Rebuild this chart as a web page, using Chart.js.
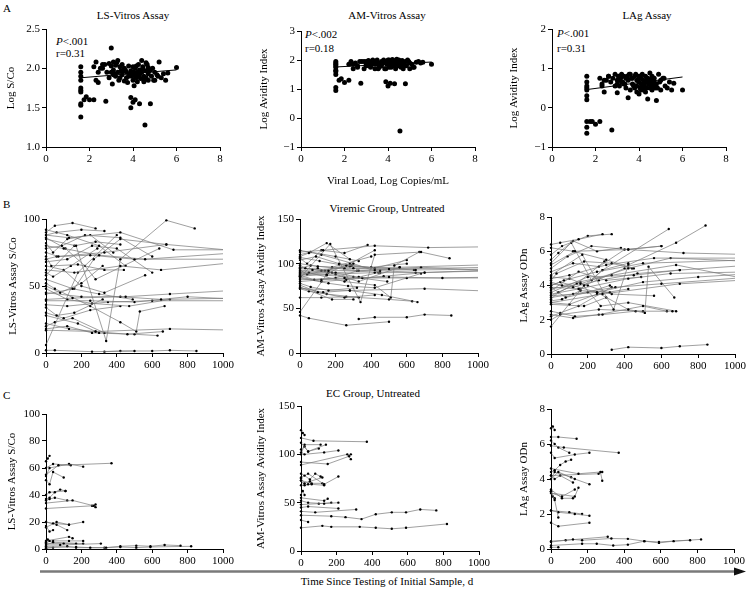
<!DOCTYPE html>
<html>
<head>
<meta charset="utf-8">
<script src="https://cdn.jsdelivr.net/npm/chart.js@4.4.1/dist/chart.umd.min.js"></script>
<style>
body { margin: 0; background: #fff; width: 746px; height: 591px; position: relative; overflow: hidden; font-family: "Liberation Serif", serif; color: #000; }
canvas { position: absolute; }
.txt { position: absolute; font-size: 11px; line-height: 1; white-space: nowrap; }
.c { transform: translate(-50%, -50%); }
.l { transform: translate(0, -50%); }
</style>
</head>
<body>

<div class="txt l" style="left:3px;top:8px">A</div>
<div class="txt l" style="left:3px;top:204px">B</div>
<div class="txt l" style="left:3px;top:395px">C</div>

<div class="txt c" style="left:133px;top:15px">LS-Vitros Assay</div>
<div class="txt c" style="left:387px;top:15px">AM-Vitros Assay</div>
<div class="txt c" style="left:647px;top:15px">LAg Assay</div>
<div class="txt c" style="left:387px;top:208px">Viremic Group, Untreated</div>
<div class="txt c" style="left:373px;top:393px">EC Group, Untreated</div>

<div class="txt l" style="left:56px;top:41px"><i>P</i>&lt;.001</div>
<div class="txt l" style="left:56px;top:53px">r=0.31</div>
<div class="txt l" style="left:305px;top:34px"><i>P</i>&lt;.002</div>
<div class="txt l" style="left:305px;top:48px">r=0.18</div>
<div class="txt l" style="left:557px;top:33px"><i>P</i>&lt;.001</div>
<div class="txt l" style="left:557px;top:48px">r=0.31</div>

<svg style="position:absolute;left:0;top:0" width="746" height="591">
  <line x1="40" y1="571.5" x2="736" y2="571.5" stroke="#7a7a7a" stroke-width="2.5"/>
  <polygon points="734,567.5 746,571.5 734,575.5" fill="#111"/>
</svg>
<div class="txt c" style="left:387px;top:581px">Time Since Testing of Initial Sample, d</div>

<script>
// ---- A: log values vs viral load (same samples in all three assays)
var viralLoad = [
    1.6, 1.6, 1.6, 1.6, 1.6, 1.6, 1.6, 1.6, 1.6, 1.6,
    1.75, 1.85, 2.0, 2.2, 2.2, 2.3, 2.4, 2.5, 2.6, 2.75,
    2.8, 2.9, 3.0, 3.0, 3.05, 3.1, 3.1, 3.2, 3.2, 3.3,
    3.3, 3.4, 3.4, 3.5, 3.5, 3.6, 3.6, 3.7, 3.7, 3.8,
    3.8, 3.9, 3.9, 3.9, 4.0, 4.0, 4.0, 4.05, 4.1, 4.1,
    4.1, 4.15, 4.2, 4.2, 4.25, 4.3, 4.3, 4.3, 4.35, 4.4,
    4.4, 4.45, 4.5, 4.5, 4.55, 4.6, 4.6, 4.65, 4.7, 4.7,
    4.8, 4.8, 4.85, 4.9, 5.0, 5.0, 5.1, 5.2, 5.3, 5.5,
    5.6, 6.0, 2.4, 2.6, 2.9, 3.15, 3.35, 3.55, 3.75, 3.95,
    4.05, 4.25, 4.45, 4.75, 4.95, 5.15, 2.3, 2.7, 3.45, 4.6,
    3.0, 3.1, 3.25, 3.65, 3.85, 4.15, 4.35, 4.5, 4.7, 5.4
];
var lsLog = [
    1.38, 1.53, 1.55, 1.70, 1.72, 1.75, 1.85, 1.90, 1.95, 2.02,
    1.60, 1.64, 1.60, 1.60, 2.02, 2.08, 1.82, 2.00, 2.05, 1.58,
    1.95, 2.06, 2.26, 1.95, 1.80, 2.08, 1.98, 2.04, 1.90, 2.10,
    1.95, 2.02, 1.88, 2.05, 1.92, 1.84, 2.00, 1.95, 1.88, 2.03,
    1.90, 1.63, 1.50, 1.97, 1.57, 1.85, 2.02, 1.78, 1.60, 1.92,
    2.00, 1.88, 1.95, 1.83, 2.05, 1.55, 1.92, 1.98, 1.87, 2.10,
    1.95, 2.02, 1.90, 1.85, 1.28, 1.97, 1.88, 2.05, 1.93, 1.85,
    1.55, 1.98, 1.90, 2.00, 1.85, 1.95, 1.92, 2.08, 1.88, 1.85,
    1.94, 2.01, 1.95, 2.00, 1.88, 1.93, 1.85, 1.97, 1.82, 1.90,
    1.95, 1.90, 1.99, 1.97, 1.85, 1.90, 1.85, 2.05, 1.97, 2.07,
    2.03, 1.92, 2.07, 1.98, 1.93, 2.03, 1.95, 1.83, 2.01, 1.93
];
var amLog = [
    0.95, 1.05, 1.50, 1.60, 1.65, 1.75, 1.80, 1.85, 1.90, 1.95,
    1.30, 1.35, 1.22, 1.30, 1.85, 1.95, 1.70, 1.90, 1.80, 1.20,
    1.95, 1.70, 1.85, 1.95, 1.90, 1.80, 1.98, 1.75, 1.90, 2.00,
    1.85, 1.95, 1.70, 1.90, 2.00, 1.75, 1.88, 1.95, 1.80, 1.90,
    2.00, 1.25, 1.70, 1.95, 1.10, 1.85, 2.00, 1.75, 1.20, 1.90,
    1.95, 1.75, 2.02, 1.85, 1.90, 1.18, 1.80, 1.95, 1.70, 2.03,
    1.88, 1.95, 1.80, 2.00, -0.45, 1.90, 1.75, 1.98, 1.85, 1.70,
    1.18, 1.95, 1.80, 2.00, 1.70, 1.90, 1.85, 1.75, 1.92, 1.90,
    1.92, 1.85, 1.85, 1.75, 1.95, 1.80, 1.95, 1.70, 1.90, 1.85,
    2.00, 1.85, 1.92, 1.80, 1.95, 1.75, 1.90, 1.95, 1.85, 1.95,
    1.80, 1.92, 1.95, 1.85, 1.70, 1.90, 1.98, 1.80, 1.92, 1.95
];
var lagLog = [
    -0.65, -0.50, -0.35, 0.20, 0.30, 0.45, 0.50, 0.65, 0.80, 0.55,
    -0.35, -0.35, -0.42, -0.35, 0.75, 0.60, 0.40, 0.70, 0.80, -0.57,
    0.75, 0.85, 0.38, 0.60, 0.80, 0.70, 0.55, 0.85, 0.65, 0.80,
    0.60, 0.75, 0.50, 0.25, 0.70, 0.45, 0.85, 0.60, 0.75, 0.50,
    0.80, 0.55, 0.40, 0.70, 0.35, 0.65, 0.80, 0.50, 0.45, 0.75,
    0.60, 0.85, 0.45, 0.70, 0.55, 0.40, 0.80, 0.65, 0.50, 0.22,
    0.75, 0.60, 0.88, 0.50, 0.70, 0.45, 0.80, 0.55, 0.65, 0.75,
    0.18, 0.60, 0.50, 0.85, 0.45, 0.70, 0.75, 0.55, 0.50, 0.45,
    0.62, 0.45, 0.70, 0.80, 0.55, 0.75, 0.60, 0.85, 0.55, 0.70,
    0.80, 0.60, 0.70, 0.50, 0.65, 0.75, 0.55, 0.65, 0.80, 0.60,
    0.70, 0.80, 0.65, 0.75, 0.85, 0.55, 0.70, 0.60, 0.55, 0.65
];
var trendX = [1.6, 6.0];
var lsTrend = [1.88, 1.98];
var amTrend = [1.76, 1.93];
var lagTrend = [0.46, 0.78];

// ---- B: viremic group, one row per subject (days beyond 1000 run off the axis)
var viremicDays = [
    [0, 130, 420, 720, 1100], [0, 100, 300, 560, 1100], [0, 70, 250, 500, 1100],
    [0, 160, 420, 650, 1100], [0, 200, 450, 700, 1100], [0, 150, 420, 650, 1100],
    [0, 250, 500, 800, 1100], [0, 120, 350, 600, 1100], [0, 280, 700, 1100],
    [0, 60, 330, 680, 1100], [0, 50, 150, 280], [0, 170, 340, 420, 680, 840],
    [0, 50, 250, 420, 510, 530, 670], [0, 180, 400], [0, 120, 300, 450],
    [0, 60, 200, 330], [0, 90, 220, 420, 600], [0, 30, 180, 330, 440],
    [0, 120, 260, 400, 600], [0, 40, 140, 290], [0, 160, 280, 420],
    [0, 150, 300, 490], [0, 80, 200, 320], [0, 120, 260, 470, 700],
    [0, 60, 160, 320], [0, 100, 250, 420], [0, 180, 300], [0, 130, 280, 460, 660],
    [0, 50, 150, 330], [0, 120, 260, 500, 630], [0, 50, 260, 500],
    [330, 420, 600, 700, 850], [0, 40, 120, 250, 380], [0, 100, 200, 330, 560],
    [0, 160, 270, 420, 680], [0, 110, 220, 280, 640]
];
var viremicLS = [
    [88, 86, 90, 77, 77], [80, 78, 73, 70, 75], [75, 72, 73, 70, 70],
    [62, 60, 65, 62, 68], [45, 42, 42, 44, 47], [40, 41, 42, 40, 41],
    [39, 39, 38, 42, 40], [36, 35, 38, 39, 39], [17, 16, 18, 17],
    [70, 72, 75, 81, 76], [90, 95, 97, 93], [85, 80, 9, 70, 99, 93],
    [52, 48, 35, 23, 16, 31, 35], [6, 60, 88], [92, 88, 80, 65],
    [88, 90, 92, 91], [78, 80, 88, 86, 72], [72, 65, 66, 62, 62],
    [68, 70, 80, 78, 60], [60, 57, 65, 78], [58, 80, 83, 81],
    [55, 48, 44, 40], [50, 45, 52, 65], [48, 40, 37, 35, 40],
    [34, 28, 30, 40], [30, 26, 32, 35], [28, 22, 15], [22, 18, 16, 14, 16],
    [20, 23, 26, 15], [18, 20, 15, 14, 13], [2, 2, 1, 1.5],
    [1, 1.5, 1.5, 2, 1.5], [82, 75, 85, 88, 75], [65, 62, 50, 45, 58],
    [44, 48, 70, 85, 81], [86, 78, 65, 55, 78]
];
var viremicAM = [
    [113, 115, 120, 118, 119], [100, 97, 95, 96, 99], [92, 93, 95, 94, 96],
    [90, 92, 93, 93, 94], [88, 90, 92, 90, 93], [86, 88, 90, 90, 92],
    [82, 84, 85, 84, 85], [80, 82, 84, 84, 84], [72, 70, 72, 69],
    [95, 98, 92, 96, 92], [108, 112, 123, 105], [84, 122, 57, 110, 113, 106],
    [86, 90, 80, 76, 62, 98, 113], [46, 96, 108], [115, 110, 100, 90],
    [110, 113, 108, 103], [104, 108, 100, 95, 104], [98, 95, 90, 85, 90],
    [96, 92, 98, 96, 100], [93, 88, 92, 98], [91, 90, 100, 115],
    [89, 87, 85, 80], [87, 82, 84, 92], [85, 80, 82, 86, 90],
    [78, 74, 70, 73], [76, 68, 62, 65], [74, 60, 60], [73, 68, 70, 65, 57],
    [72, 69, 66, 62], [62, 62, 63, 60, 58], [42, 39, 31, 35],
    [38, 40, 40, 43, 42], [106, 100, 115, 112, 121], [94, 95, 88, 80, 96],
    [84, 78, 75, 73, 89], [107, 103, 99, 97, 93]
];
var viremicLAg = [
    [5.2, 6.0, 6.1, 5.9, 5.8], [4.4, 4.6, 5.2, 5.6, 5.6], [4.0, 4.3, 4.8, 5.3, 5.5],
    [3.8, 4.1, 5.0, 5.6, 5.4], [3.6, 4.5, 4.6, 4.9, 5.2], [3.5, 3.8, 4.4, 4.7, 4.8],
    [3.4, 3.6, 4.2, 4.5, 4.7], [3.3, 3.5, 3.9, 4.1, 4.5], [3.0, 3.5, 4.1, 4.35],
    [4.2, 4.0, 4.6, 5.2, 4.3], [6.4, 6.5, 6.7, 7.0], [4.6, 5.8, 2.6, 5.2, 6.5, 7.5],
    [4.0, 4.2, 3.6, 2.6, 2.4, 5.1, 3.3], [1.6, 4.0, 5.0], [6.2, 6.0, 5.5, 5.0],
    [5.8, 6.3, 6.9, 7.0], [5.0, 5.7, 6.3, 6.1, 6.3], [4.3, 4.7, 5.4, 5.3, 5.0],
    [4.8, 5.3, 5.1, 6.1, 6.3], [3.2, 3.6, 4.1, 5.4], [3.9, 3.8, 4.9, 5.3],
    [3.7, 4.8, 4.3, 4.5], [3.9, 3.3, 3.6, 4.0], [4.1, 3.9, 4.3, 4.7, 4.9],
    [3.1, 3.2, 3.7, 3.6], [3.0, 2.9, 3.5, 3.8], [2.9, 2.8, 3.3], [2.5, 2.2, 2.3, 2.5, 2.5],
    [2.2, 2.4, 2.8, 3.9], [2.3, 2.1, 2.3, 2.8, 2.5], [2.0, 2.3, 2.6, 2.5],
    [0.25, 0.4, 0.35, 0.45, 0.55], [5.5, 5.9, 6.6, 6.0, 6.2], [4.5, 4.4, 4.0, 3.5, 3.4],
    [3.4, 4.2, 2.8, 3.0, 2.5], [5.3, 6.5, 4.3, 4.9, 7.3]
];

// ---- C: elite controller group
var ecDays = [
    [0, 170, 250, 340, 420, 510, 590, 670, 760], [0, 120, 170, 330, 420, 510, 590, 820],
    [0, 80, 310], [0, 40], [0, 10, 20], [0, 70, 370], [0, 40, 140], [0, 20, 40, 100],
    [0, 20, 130, 210], [0, 20, 50, 80, 110], [0, 150, 270, 280], [0, 260, 280],
    [0, 20, 50, 120], [0, 40, 130, 210], [0, 20, 40], [0, 60, 130], [0, 10, 20],
    [0, 130, 150], [0, 40, 130, 210], [0, 100, 170], [0, 40, 210], [0, 20, 110],
    [0, 60, 120]
];
var ecLS = [
    [1, 1.5, 1, 1, 2, 2.5, 2, 3, 2.5], [2, 2, 1, 1, 1.5, 1, 1.5, 2],
    [3, 3, 4], [0.5, 1], [65, 67, 69], [55, 62, 63.5], [60, 63, 62], [51, 48, 57, 53],
    [54, 60, 63, 61], [37, 38, 42, 44, 43], [34, 36, 32, 33], [30, 32, 31],
    [36, 37, 38, 36], [20, 19, 18, 20], [17, 13, 14], [16, 20, 18], [6, 7, 6],
    [6, 9, 8], [5, 6, 6, 6], [4, 4, 4], [3, 5, 4], [40, 42, 43],
    [20, 18, 14]
];
var ecAM = [
    [37, 36, 35, 33, 38, 40, 40, 43, 42], [24, 26, 25, 25, 24, 23, 24, 28],
    [41, 40, 43], [32, 30], [125, 122, 120], [117, 114, 113], [112, 103, 110], [105, 108, 103, 106],
    [102, 100, 102, 104], [80, 78, 74, 80, 77], [92, 90, 98, 100], [89, 100, 95],
    [75, 70, 72, 76], [76, 80, 69, 77], [73, 68, 69], [68, 69, 68], [58, 62, 58],
    [55, 52, 54], [52, 50, 49, 50], [48, 49, 50], [45, 46, 44], [100, 110, 110],
    [73, 70, 70]
];
var ecLAg = [
    [0.2, 0.3, 0.3, 0.2, 0.25, 0.45, 0.35, 0.45, 0.5], [0.4, 0.55, 0.5, 0.6, 0.58, 0.45, 0.4, 0.55],
    [0.45, 0.5, 0.7], [0.1, 0.1], [6.9, 7.0, 6.8], [5.9, 5.8, 5.5], [6.4, 6.4, 6.3], [6.2, 6.0, 5.8, 5.5],
    [5.5, 5.2, 5.4, 5.5], [4.4, 4.5, 4.8, 5.0, 5.1], [4.6, 4.3, 4.4, 3.9], [4.2, 4.3, 4.4],
    [4.2, 4.0, 4.2, 3.8], [4.0, 4.4, 4.0, 3.7], [3.3, 2.8, 1.8], [3.2, 3.0, 3.4], [3.3, 3.0, 2.9],
    [3.2, 3.0, 3.5], [2.2, 2.1, 2.0, 1.9], [2.2, 2.1, 2.0], [1.5, 1.3, 1.5], [4.0, 4.4, 4.1],
    [3.4, 2.9, 2.9]
];

Chart.defaults.font.family = '"Liberation Serif", serif';
Chart.defaults.font.size = 11;
Chart.defaults.color = '#000';

var PT = 10, PR = 16;

function pairs(xs, ys) {
    return xs.map(function(x, i) { return {x: x, y: ys[i]}; });
}

function scatterSets(ys, trend) {
    return [{
        data: pairs(viralLoad, ys),
        showLine: false,
        pointRadius: 2.5,
        pointBackgroundColor: '#000',
        pointBorderWidth: 0
    }, {
        data: pairs(trendX, trend),
        showLine: true,
        borderColor: '#000',
        borderWidth: 1,
        pointRadius: 0
    }];
}

function subjectSets(days, vals) {
    return days.map(function(d, i) {
        return {
            data: pairs(d, vals[i]),
            showLine: true,
            borderColor: '#777',
            borderWidth: 0.7,
            pointRadius: 1.2,
            pointBackgroundColor: '#000',
            pointBorderWidth: 0,
            clip: {left: 4, top: 4, right: 0, bottom: 4}
        };
    });
}

function tickLabel(dec) {
    return function(v) {
        var s = dec ? v.toFixed(dec) : String(v);
        return s.replace('-', '\u2212');
    };
}

function panel(rect, yw, xh, datasets, xr, yr, yTitle, xTitle) {
    var c = document.createElement('canvas');
    var w = rect[2] - rect[0] + yw + PR;
    var h = rect[3] - rect[1] + PT + xh;
    c.width = w; c.height = h;
    c.style.left = (rect[0] - yw) + 'px';
    c.style.top = (rect[1] - PT) + 'px';
    c.style.width = w + 'px'; c.style.height = h + 'px';
    document.body.appendChild(c);

    var axisGrid = { drawOnChartArea: false, drawTicks: true, tickLength: 4, color: '#000' };
    new Chart(c, {
        type: 'scatter',
        data: { datasets: datasets },
        options: {
            responsive: false,
            animation: false,
            layout: { padding: { left: 0, top: PT, right: PR, bottom: 0 } },
            plugins: { legend: { display: false }, tooltip: { enabled: false } },
            scales: {
                x: {
                    type: 'linear', min: xr[0], max: xr[1],
                    grid: axisGrid,
                    border: { color: '#000', width: 1 },
                    ticks: { stepSize: xr[2], padding: 2, maxRotation: 0, callback: tickLabel(0) },
                    title: { display: !!xTitle, text: xTitle || '', padding: 0, font: { size: 11 } },
                    afterFit: function(s) { s.height = xh; }
                },
                y: {
                    type: 'linear', min: yr[0], max: yr[1],
                    grid: axisGrid,
                    border: { color: '#000', width: 1 },
                    ticks: { stepSize: yr[2], padding: 2, callback: tickLabel(yr[3]) },
                    title: { display: true, text: yTitle, padding: 0, font: { size: 11 } },
                    afterFit: function(s) { s.width = yw; }
                }
            }
        }
    });
}

// top row
panel([46, 29, 220, 147], 41, 22, scatterSets(lsLog, lsTrend), [0, 8, 2], [1, 2.5, 0.5, 1], 'Log S/Co');
panel([301, 31, 475, 147], 43, 41, scatterSets(amLog, amTrend), [0, 8, 2], [-1, 3, 1, 0], 'Log Avidity Index', 'Viral Load, Log Copies/mL');
panel([552, 29, 726, 147], 44, 22, scatterSets(lagLog, lagTrend), [0, 8, 2], [-1, 2, 1, 0], 'Log Avidity Index');

// middle row
panel([46, 219, 223, 353], 39, 22, subjectSets(viremicDays, viremicLS), [0, 1000, 200], [0, 100, 50, 0], 'LS-Vitros Assay S/Co');
panel([300, 219, 478, 353], 45, 22, subjectSets(viremicDays, viremicAM), [0, 1000, 200], [0, 150, 50, 0], 'AM-Vitros Assay Avidity Index');
panel([551, 217, 735, 354], 33, 22, subjectSets(viremicDays, viremicLAg), [0, 1000, 200], [0, 8, 2, 0], 'LAg Assay ODn');

// bottom row
panel([46, 414, 223, 549], 40, 22, subjectSets(ecDays, ecLS), [0, 1000, 200], [0, 100, 20, 0], 'LS-Vitros Assay S/Co');
panel([301, 406, 479, 551], 46, 22, subjectSets(ecDays, ecAM), [0, 1000, 200], [0, 150, 50, 0], 'AM-Vitros Assay Avidity Index');
panel([551, 409, 734, 549], 33, 22, subjectSets(ecDays, ecLAg), [0, 1000, 200], [0, 8, 2, 0], 'LAg Assay ODn');
</script>
</body>
</html>
